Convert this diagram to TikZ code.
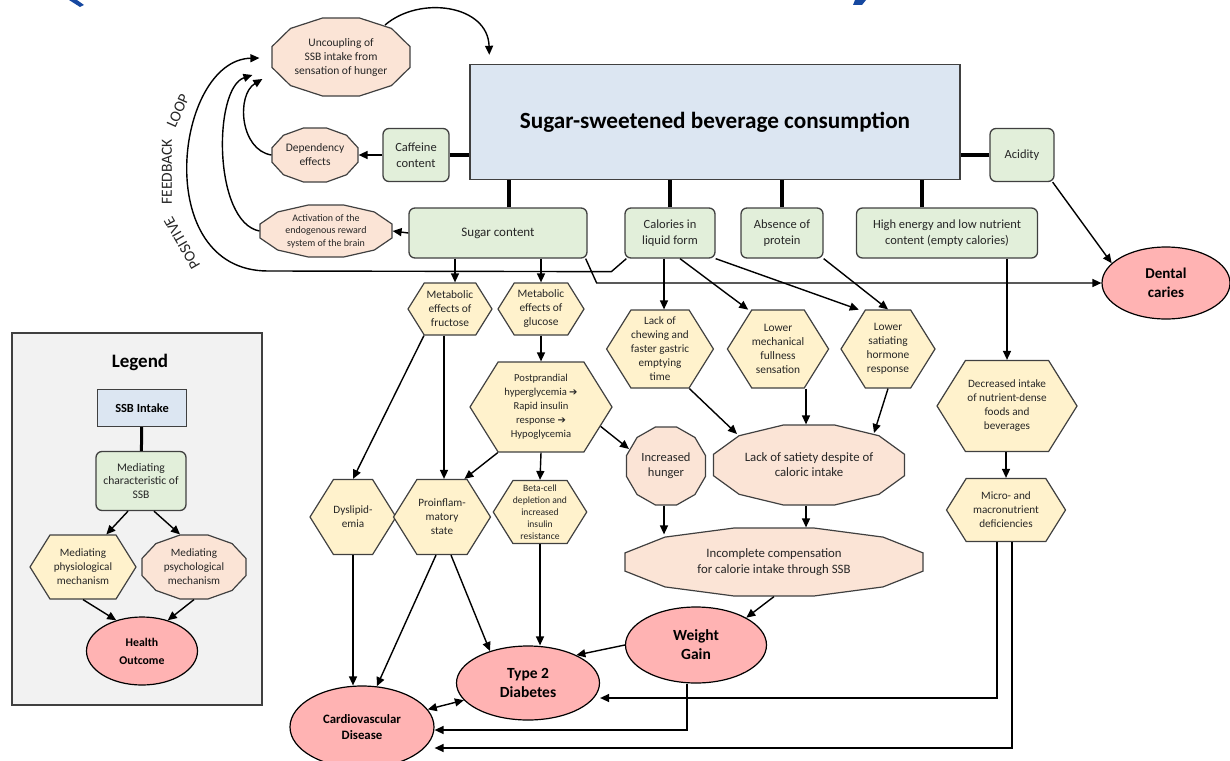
\documentclass[tikz,border=0pt]{standalone}
\usepackage{fontspec}
\setmainfont{Carlito}
\newfontfamily\arrowfont{DejaVu Sans}
\usetikzlibrary{shapes.geometric,shapes.symbols,arrows.meta}
\definecolor{ssbblue}{RGB}{220,230,242}
\definecolor{chargreen}{RGB}{226,239,218}
\definecolor{physyellow}{RGB}{255,242,204}
\definecolor{psychpeach}{RGB}{251,228,214}
\definecolor{outcomepink}{RGB}{255,179,179}
\definecolor{legendgray}{RGB}{242,242,242}
\definecolor{edgegray}{RGB}{64,64,64}
\definecolor{textgray}{RGB}{38,38,38}
\definecolor{titleblue}{RGB}{22,72,160}
\newcommand{\szf}[2]{\fontsize{#1}{#2}\selectfont}
\newcommand{\heavyarr}{{\arrowfont\szf{10}{10}➔}}

% stretched dodecagon for the psychological mechanisms
\makeatletter
\newdimen\dodeX \newdimen\dodeY \newdimen\dodeW \newdimen\dodeH \newdimen\dodeO
\def\dodept#1#2{\pgfpointadd{\pgfqpoint{\dodeX}{\dodeY}}{\pgfqpoint{#1\dodeW}{#2\dodeH}}}
\pgfdeclareshape{dodecagon box}{
  \inheritsavedanchors[from=rectangle]
  \inheritanchorborder[from=rectangle]
  \inheritanchor[from=rectangle]{center}
  \inheritanchor[from=rectangle]{north}
  \inheritanchor[from=rectangle]{south}
  \inheritanchor[from=rectangle]{east}
  \inheritanchor[from=rectangle]{west}
  \inheritanchor[from=rectangle]{north east}
  \inheritanchor[from=rectangle]{north west}
  \inheritanchor[from=rectangle]{south east}
  \inheritanchor[from=rectangle]{south west}
  \inheritanchor[from=rectangle]{mid}
  \inheritanchor[from=rectangle]{base}
  \backgroundpath{%
    \southwest \dodeX=\pgf@x \dodeY=\pgf@y
    \northeast \dodeW=\pgf@x \dodeH=\pgf@y
    \advance\dodeX by \dodeW \divide\dodeX by 2
    \advance\dodeY by \dodeH \divide\dodeY by 2
    \advance\dodeW by -\dodeX \advance\dodeH by -\dodeY
    \pgfmathsetlength\dodeO{\pgfkeysvalueof{/pgf/outer xsep}}\advance\dodeW by -\dodeO
    \pgfmathsetlength\dodeO{\pgfkeysvalueof{/pgf/outer ysep}}\advance\dodeH by -\dodeO
    \pgfpathmoveto{\dodept{1}{0.2679}}
    \pgfpathlineto{\dodept{0.7321}{0.7321}}
    \pgfpathlineto{\dodept{0.2679}{1}}
    \pgfpathlineto{\dodept{-0.2679}{1}}
    \pgfpathlineto{\dodept{-0.7321}{0.7321}}
    \pgfpathlineto{\dodept{-1}{0.2679}}
    \pgfpathlineto{\dodept{-1}{-0.2679}}
    \pgfpathlineto{\dodept{-0.7321}{-0.7321}}
    \pgfpathlineto{\dodept{-0.2679}{-1}}
    \pgfpathlineto{\dodept{0.2679}{-1}}
    \pgfpathlineto{\dodept{0.7321}{-0.7321}}
    \pgfpathlineto{\dodept{1}{-0.2679}}
    \pgfpathclose
  }
}
\makeatother

\tikzset{
  ssbbox/.style={draw=edgegray, fill=ssbblue, line width=1.4pt, inner sep=0pt, text=black},
  charbox/.style={draw=edgegray, fill=chargreen, rounded corners=6pt, line width=1.3pt,
    align=center, inner sep=0pt, text=textgray, font=\szf{12.5}{16}},
  physhex/.style={draw=edgegray, fill=physyellow, shape=signal, signal to=east and west,
    signal pointer angle=116, line width=1.2pt, align=center, inner sep=0pt, text=textgray,
    font=\szf{11.4}{14}},
  psychoct/.style={draw=edgegray, fill=psychpeach, shape=dodecagon box, line width=1.2pt,
    align=center, inner sep=0pt, text=textgray, font=\szf{11.5}{14}},
  outcome/.style={draw=black, fill=outcomepink, ellipse, line width=1.2pt, align=center,
    inner sep=0pt, text=black, font=\bfseries\szf{15.5}{19}},
  legendbox/.style={draw=edgegray, fill=legendgray, line width=1.3pt},
  link/.style={line width=4pt},
  arr/.style={line width=1.4pt, -{Triangle[length=9pt,width=8pt]}},
  looptext/.style={font=\szf{15.5}{17}, text=textgray},
}

\begin{document}
\begin{tikzpicture}[x=1pt,y=-1pt]
\useasboundingbox (0,0) rectangle (1230,760);
% cut-off title brackets
\fill[titleblue] (69,0) -- (77,0) -- (84,5) -- (80,7) -- cycle;
\fill[titleblue] (855,0) -- (866,0) -- (862,5) -- (853,5) -- cycle;

%% legend
\node[legendbox, minimum width=250pt, minimum height=372pt] (legend) at (137,519) {};
\node[font=\bfseries\szf{19}{22}] (lgtitle) at (140,362) {Legend};
\node[ssbbox, minimum width=89pt, minimum height=37pt, font=\bfseries\szf{12.4}{14}] (lgssb) at (142,408) {SSB Intake};
\node[charbox, minimum width=90pt, minimum height=59pt, font=\szf{11.6}{13.5}] (lgchar) at (141,481) {Mediating\\characteristic of\\SSB};
\node[physhex, minimum width=106pt, minimum height=64pt, font=\szf{11.2}{14}] (lgphys) at (83,567) {Mediating\\physiological\\mechanism};
\node[psychoct, minimum width=104pt, minimum height=64pt, font=\szf{11.2}{14}] (lgpsych) at (194,567) {Mediating\\psychological\\mechanism};
\node[outcome, minimum width=111pt, minimum height=68pt, font=\bfseries\szf{11.8}{18}] (lghealth) at (142,651) {Health\\Outcome};
\draw[link, line width=3pt] (lgssb) -- (lgchar);
\draw[arr] ([xshift=-13pt]lgchar.south) -- ([xshift=-10pt]lgphys.north east);
\draw[arr] ([xshift=13pt]lgchar.south) -- ([xshift=-14pt]lgpsych.north);
\draw[arr] (lgphys.south) -- (lghealth.130);
\draw[arr] (lgpsych.south) -- (lghealth.50);

%% beverage and its characteristics
\node[ssbbox, minimum width=490pt, minimum height=115pt, font=\bfseries\szf{23.2}{26}] (ssb) at (715,122) {Sugar-sweetened beverage consumption};
\node[charbox, minimum width=66pt, minimum height=53pt, font=\szf{12.5}{16.5}] (caff) at (416,155) {Caffeine\\content};
\node[charbox, minimum width=64pt, minimum height=53pt] (acid) at (1022,155) {Acidity};
\node[charbox, minimum width=178pt, minimum height=50pt, font=\szf{13}{16}] (sugar) at (498,233) {Sugar content};
\node[charbox, minimum width=90pt, minimum height=50pt] (cal) at (670,233) {Calories in\\liquid form};
\node[charbox, minimum width=82pt, minimum height=50pt] (prot) at (782,233) {Absence of\\protein};
\node[charbox, minimum width=181pt, minimum height=50pt] (energy) at (947,233) {High energy and low nutrient\\content (empty calories)};

%% psychological mechanisms
\node[psychoct, minimum width=138pt, minimum height=78pt] (uncoup) at (341,57) {Uncoupling of\\SSB intake from\\sensation of hunger};
\node[psychoct, minimum width=86pt, minimum height=54pt] (depend) at (315,155) {Dependency\\effects};
\node[psychoct, minimum width=132pt, minimum height=52pt, font=\szf{10}{12.5}] (activ) at (326,231) {Activation of the\\endogenous reward\\system of the brain};
\node[psychoct, minimum width=79pt, minimum height=78pt, font=\szf{12.5}{15}] (hunger) at (666,466) {Increased\\hunger};
\node[psychoct, minimum width=191pt, minimum height=80pt, font=\szf{12.8}{15}] (satiety) at (809,465) {Lack of satiety despite of\\caloric intake};
\node[psychoct, minimum width=298pt, minimum height=68pt, font=\szf{12.8}{16.5}] (incomp) at (774,562) {Incomplete compensation\\for calorie intake through SSB};

%% physiological mechanisms
\node[physhex, minimum width=84pt, minimum height=52pt] (fruc) at (450,309) {Metabolic\\effects of\\fructose};
\node[physhex, minimum width=86pt, minimum height=52pt] (gluc) at (541,309) {Metabolic\\effects of\\glucose};
\node[physhex, minimum width=96pt, minimum height=78pt, font=\szf{11.2}{14}] (chew) at (660,349) {Lack of\\chewing and\\faster gastric\\emptying\\time};
\node[physhex, minimum width=101pt, minimum height=78pt] (mech) at (778,349) {Lower\\mechanical\\fullness\\sensation};
\node[physhex, minimum width=94pt, minimum height=78pt] (horm) at (888,349) {Lower\\satiating\\hormone\\response};
\node[physhex, minimum width=140pt, minimum height=91pt, font=\szf{11.2}{14}] (decr) at (1007,406) {Decreased intake\\of nutrient-dense\\foods and\\beverages};
\node[physhex, minimum width=142pt, minimum height=90pt, font=\szf{10.6}{14}] (postp) at (541,407) {Postprandial\\hyperglycemia \heavyarr\\Rapid insulin\\response \heavyarr\\Hypoglycemia};
\node[physhex, minimum width=76pt, minimum height=75pt, font=\szf{11.2}{14}] (dys) at (353,517) {Dyslipid-\\emia};
\node[physhex, minimum width=97pt, minimum height=75pt, font=\szf{11.2}{14}] (infl) at (442,517) {Proinflam-\\matory\\state};
\node[physhex, minimum width=93pt, minimum height=63pt, font=\szf{9.6}{12}] (beta) at (540,512) {Beta-cell\\depletion and\\increased\\insulin\\resistance};
\node[physhex, minimum width=119pt, minimum height=63pt, font=\szf{11.2}{14}] (micro) at (1006,510) {Micro- and\\macronutrient\\deficiencies};

%% health outcomes
\node[outcome, minimum width=128pt, minimum height=72pt, font=\bfseries\szf{15}{18.5}] (dental) at (1166,283) {Dental\\caries};
\node[outcome, minimum width=141pt, minimum height=76pt] (weight) at (696,645) {Weight\\Gain};
\node[outcome, minimum width=143pt, minimum height=74pt] (t2d) at (528,683) {Type 2\\Diabetes};
\node[outcome, minimum width=144pt, minimum height=82pt, font=\bfseries\szf{12.8}{15.5}] (cvd) at (362,727) {Cardiovascular\\Disease};

%% feedback loop label
\node[looptext, rotate=120] (lbpos) at (182,243) {POSITIVE};
\node[looptext, rotate=90] (lbfeed) at (167,172) {FEEDBACK};
\node[looptext, rotate=66] (lbloop) at (178,111) {LOOP};

%% thick links from the beverage
\draw[link] (caff.east) -- (caff.east -| ssb.west);
\draw[link] (acid.west) -- (acid.west -| ssb.east);
\draw[link] ([xshift=11pt]sugar.north) -- ([xshift=11pt]sugar.north |- ssb.south);
\draw[link] (cal.north) -- (cal.north |- ssb.south);
\draw[link] (prot.north) -- (prot.north |- ssb.south);
\draw[link] ([xshift=-25pt]energy.north) -- ([xshift=-25pt]energy.north |- ssb.south);

%% feedback loop
\draw[arr] (caff.west) -- (depend.east);
\draw[arr] (sugar.west) -- (activ.east);
\draw[arr] ([shift={(44,-32)}]uncoup.center) .. controls (420,-5) and (488,5) .. ([shift={(20,-9)}]ssb.north west);
\draw[arr] (depend.west) .. controls (240,150) and (236,95) .. ([shift={(-9,22)}]uncoup.west);
\draw[arr] (activ.west) .. controls (213,222) and (213,88) .. ([shift={(-19,18)}]uncoup.west);
\draw[arr] ([xshift=2pt]cal.south west) -- ++(-15,13) -- (268,271)
  .. controls (150,271) and (175,60) .. ([shift={(-12,1)}]uncoup.west);

%% characteristics to mechanisms
\draw[arr] ([xshift=-2pt]sugar.south east) -- ([xshift=9pt]sugar.south east |- dental.west) -- (dental.west);
\draw[arr] ([xshift=-2pt]acid.south east) -- (dental.160);
\draw[arr] ([xshift=5pt]fruc.north |- sugar.south) -- ([xshift=5pt]fruc.north);
\draw[arr] (gluc.north |- sugar.south) -- (gluc.north);
\draw[arr] ([xshift=4pt]chew.north |- cal.south) -- ([xshift=4pt]chew.north);
\draw[arr] ([xshift=10pt]cal.south) -- ([xshift=-3pt]mech.north west);
\draw[arr] (cal.south east) -- ([xshift=-6pt]horm.north west);
\draw[arr] (prot.south east) -- (horm.north);
\draw[arr] (decr.north |- energy.south) -- (decr.north);
\draw[arr] (micro.north |- decr.south) -- (micro.north);

%% mechanisms to mechanisms
\draw[arr] (fruc.south west) -- (dys.north);
\draw[arr] ([xshift=-6pt]fruc.south) -- ([xshift=-6pt]fruc.south |- infl.north);
\draw[arr] (gluc.south) -- (postp.north);
\draw[arr] (postp.south west) -- ([xshift=-3pt]infl.north east);
\draw[arr] (postp.south) -- (beta.north);
\draw[arr] (postp.-18) -- ([shift={(-37,-17)}]hunger.center);
\draw[arr] (chew.south east) -- ([shift={(-72,-31)}]satiety.center);
\draw[arr] ([xshift=-3pt]satiety.north |- mech.south) -- ([xshift=-3pt]satiety.north);
\draw[arr] (horm.south) -- ([shift={(65,-32)}]satiety.center);
\draw[arr, shorten >=-7pt] ([xshift=-2pt]hunger.south) -- ([xshift=-2pt]hunger.south |- incomp.north);
\draw[arr] ([xshift=-3pt]satiety.south) -- ([xshift=-3pt]satiety.south |- incomp.north);
\draw[arr] (incomp.south) -- (weight.north east);

%% mechanisms to outcomes
\draw[arr] (dys.south) -- (dys.south |- cvd.north);
\draw[arr] ([xshift=-6pt]infl.south) -- (cvd.70);
\draw[arr] ([xshift=9pt]infl.south) -- (t2d.140);
\draw[arr] (beta.south) -- (beta.south |- t2d.north);
\draw[arr] (weight.west) -- (t2d.30);
\draw[arr] ([xshift=-9pt]weight.south) |- ([yshift=-3pt]cvd.east);
\draw[arr] ([xshift=-9pt]micro.south) |- ([yshift=-15pt]t2d.east);
\draw[arr] ([xshift=6pt]micro.south) |- ([yshift=-21pt]cvd.east);
\draw[arr, {Triangle[length=9pt,width=8pt]}-{Triangle[length=9pt,width=8pt]}] (t2d.195) -- (cvd.15);
\end{tikzpicture}
\end{document}
